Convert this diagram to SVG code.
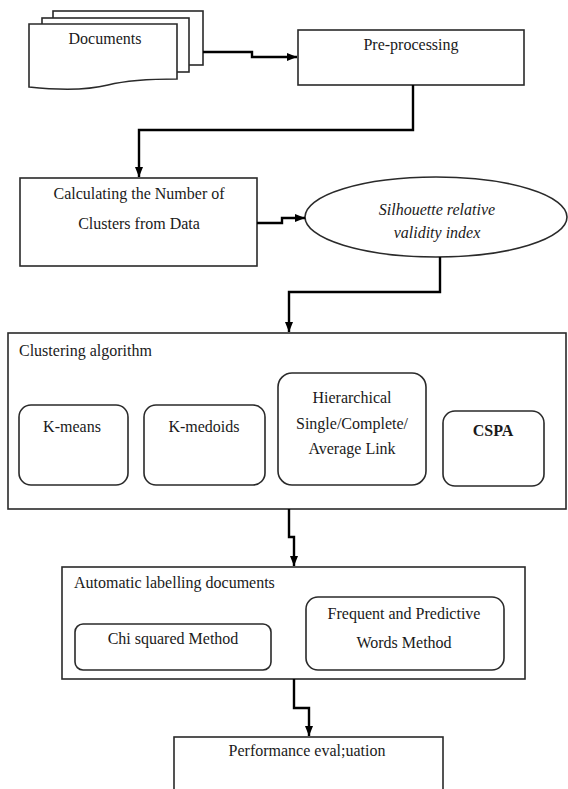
<svg xmlns="http://www.w3.org/2000/svg" width="568" height="789" viewBox="0 0 568 789">
<defs>
<style>
.box{fill:#fff;stroke:#2a2a2a;stroke-width:1.6}
.t{font-family:"Liberation Serif","Times New Roman",serif;font-size:16px;fill:#1a1a1a}
.c{text-anchor:middle}
.i{font-style:italic}
.b{font-weight:bold}
.con{fill:none;stroke:#000;stroke-width:2.4}
</style>
<marker id="ah" markerUnits="userSpaceOnUse" markerWidth="10" markerHeight="10" viewBox="0 0 10 10" refX="10" refY="5" orient="auto">
<path d="M0,1 L10,5 L0,9 Z" fill="#000"/>
</marker>
</defs>
<rect width="568" height="789" fill="#fff"/>

<g id="documents">
<rect class="box" x="53" y="11" width="150" height="54"/>
<rect class="box" x="42" y="18" width="147" height="54"/>
<path class="box" d="M29,24 H177 V79 C150,79 128,80 108,85 C88,90 58,90 29,87 Z"/>
<text class="t c" x="105" y="44">Documents</text>
</g>

<g id="preprocessing">
<rect class="box" x="298" y="30" width="226" height="55"/>
<text class="t c" x="411" y="50">Pre-processing</text>
</g>

<g id="calculating">
<rect class="box" x="20" y="178" width="237" height="88"/>
<text class="t c" x="139" y="199">Calculating the Number of</text>
<text class="t c" x="139" y="229">Clusters from Data</text>
</g>

<g id="silhouette">
<ellipse class="box" cx="436" cy="217" rx="131" ry="40"/>
<text class="t c i" x="437" y="215">Silhouette relative</text>
<text class="t c i" x="437" y="238">validity index</text>
</g>

<g id="clustering">
<rect class="box" x="8" y="333" width="558" height="176"/>
<text class="t" x="19" y="356">Clustering algorithm</text>
<g id="kmeans">
<rect class="box" x="19" y="405" width="109" height="80" rx="12"/>
<text class="t c" x="72" y="432">K-means</text>
</g>
<g id="kmedoids">
<rect class="box" x="144" y="405" width="121" height="80" rx="12"/>
<text class="t c" x="204" y="432">K-medoids</text>
</g>
<g id="hierarchical">
<rect class="box" x="278" y="373" width="148" height="112" rx="14"/>
<text class="t c" x="352" y="403">Hierarchical</text>
<text class="t c" x="352" y="429">Single/Complete/</text>
<text class="t c" x="352" y="454">Average Link</text>
</g>
<g id="cspa">
<rect class="box" x="443" y="411" width="101" height="75" rx="12"/>
<text class="t c b" x="493" y="436">CSPA</text>
</g>
</g>

<g id="labelling">
<rect class="box" x="62" y="567" width="463" height="112"/>
<text class="t" x="74" y="588">Automatic labelling documents</text>
<g id="chi">
<rect class="box" x="75" y="624" width="196" height="46" rx="8"/>
<text class="t c" x="173" y="644">Chi squared Method</text>
</g>
<g id="frequent">
<rect class="box" x="306" y="597" width="198" height="73" rx="12"/>
<text class="t c" x="404" y="619">Frequent and Predictive</text>
<text class="t c" x="404" y="648">Words Method</text>
</g>
</g>

<g id="performance">
<rect class="box" x="174" y="737" width="269" height="60"/>
<text class="t c" x="307" y="756">Performance eval;uation</text>
</g>

<g id="connectors">
<path class="con" d="M203,52 H252 V57 H297" marker-end="url(#ah)"/>
<path class="con" d="M413,85 V130 H139 V177" marker-end="url(#ah)"/>
<path class="con" d="M257,223 H282 V218 H305" marker-end="url(#ah)"/>
<path class="con" d="M440,257 V292 H289 V332" marker-end="url(#ah)"/>
<path class="con" d="M289,509 V537 H294 V566" marker-end="url(#ah)"/>
<path class="con" d="M294,679 V708 H309 V736" marker-end="url(#ah)"/>
</g>
</svg>
